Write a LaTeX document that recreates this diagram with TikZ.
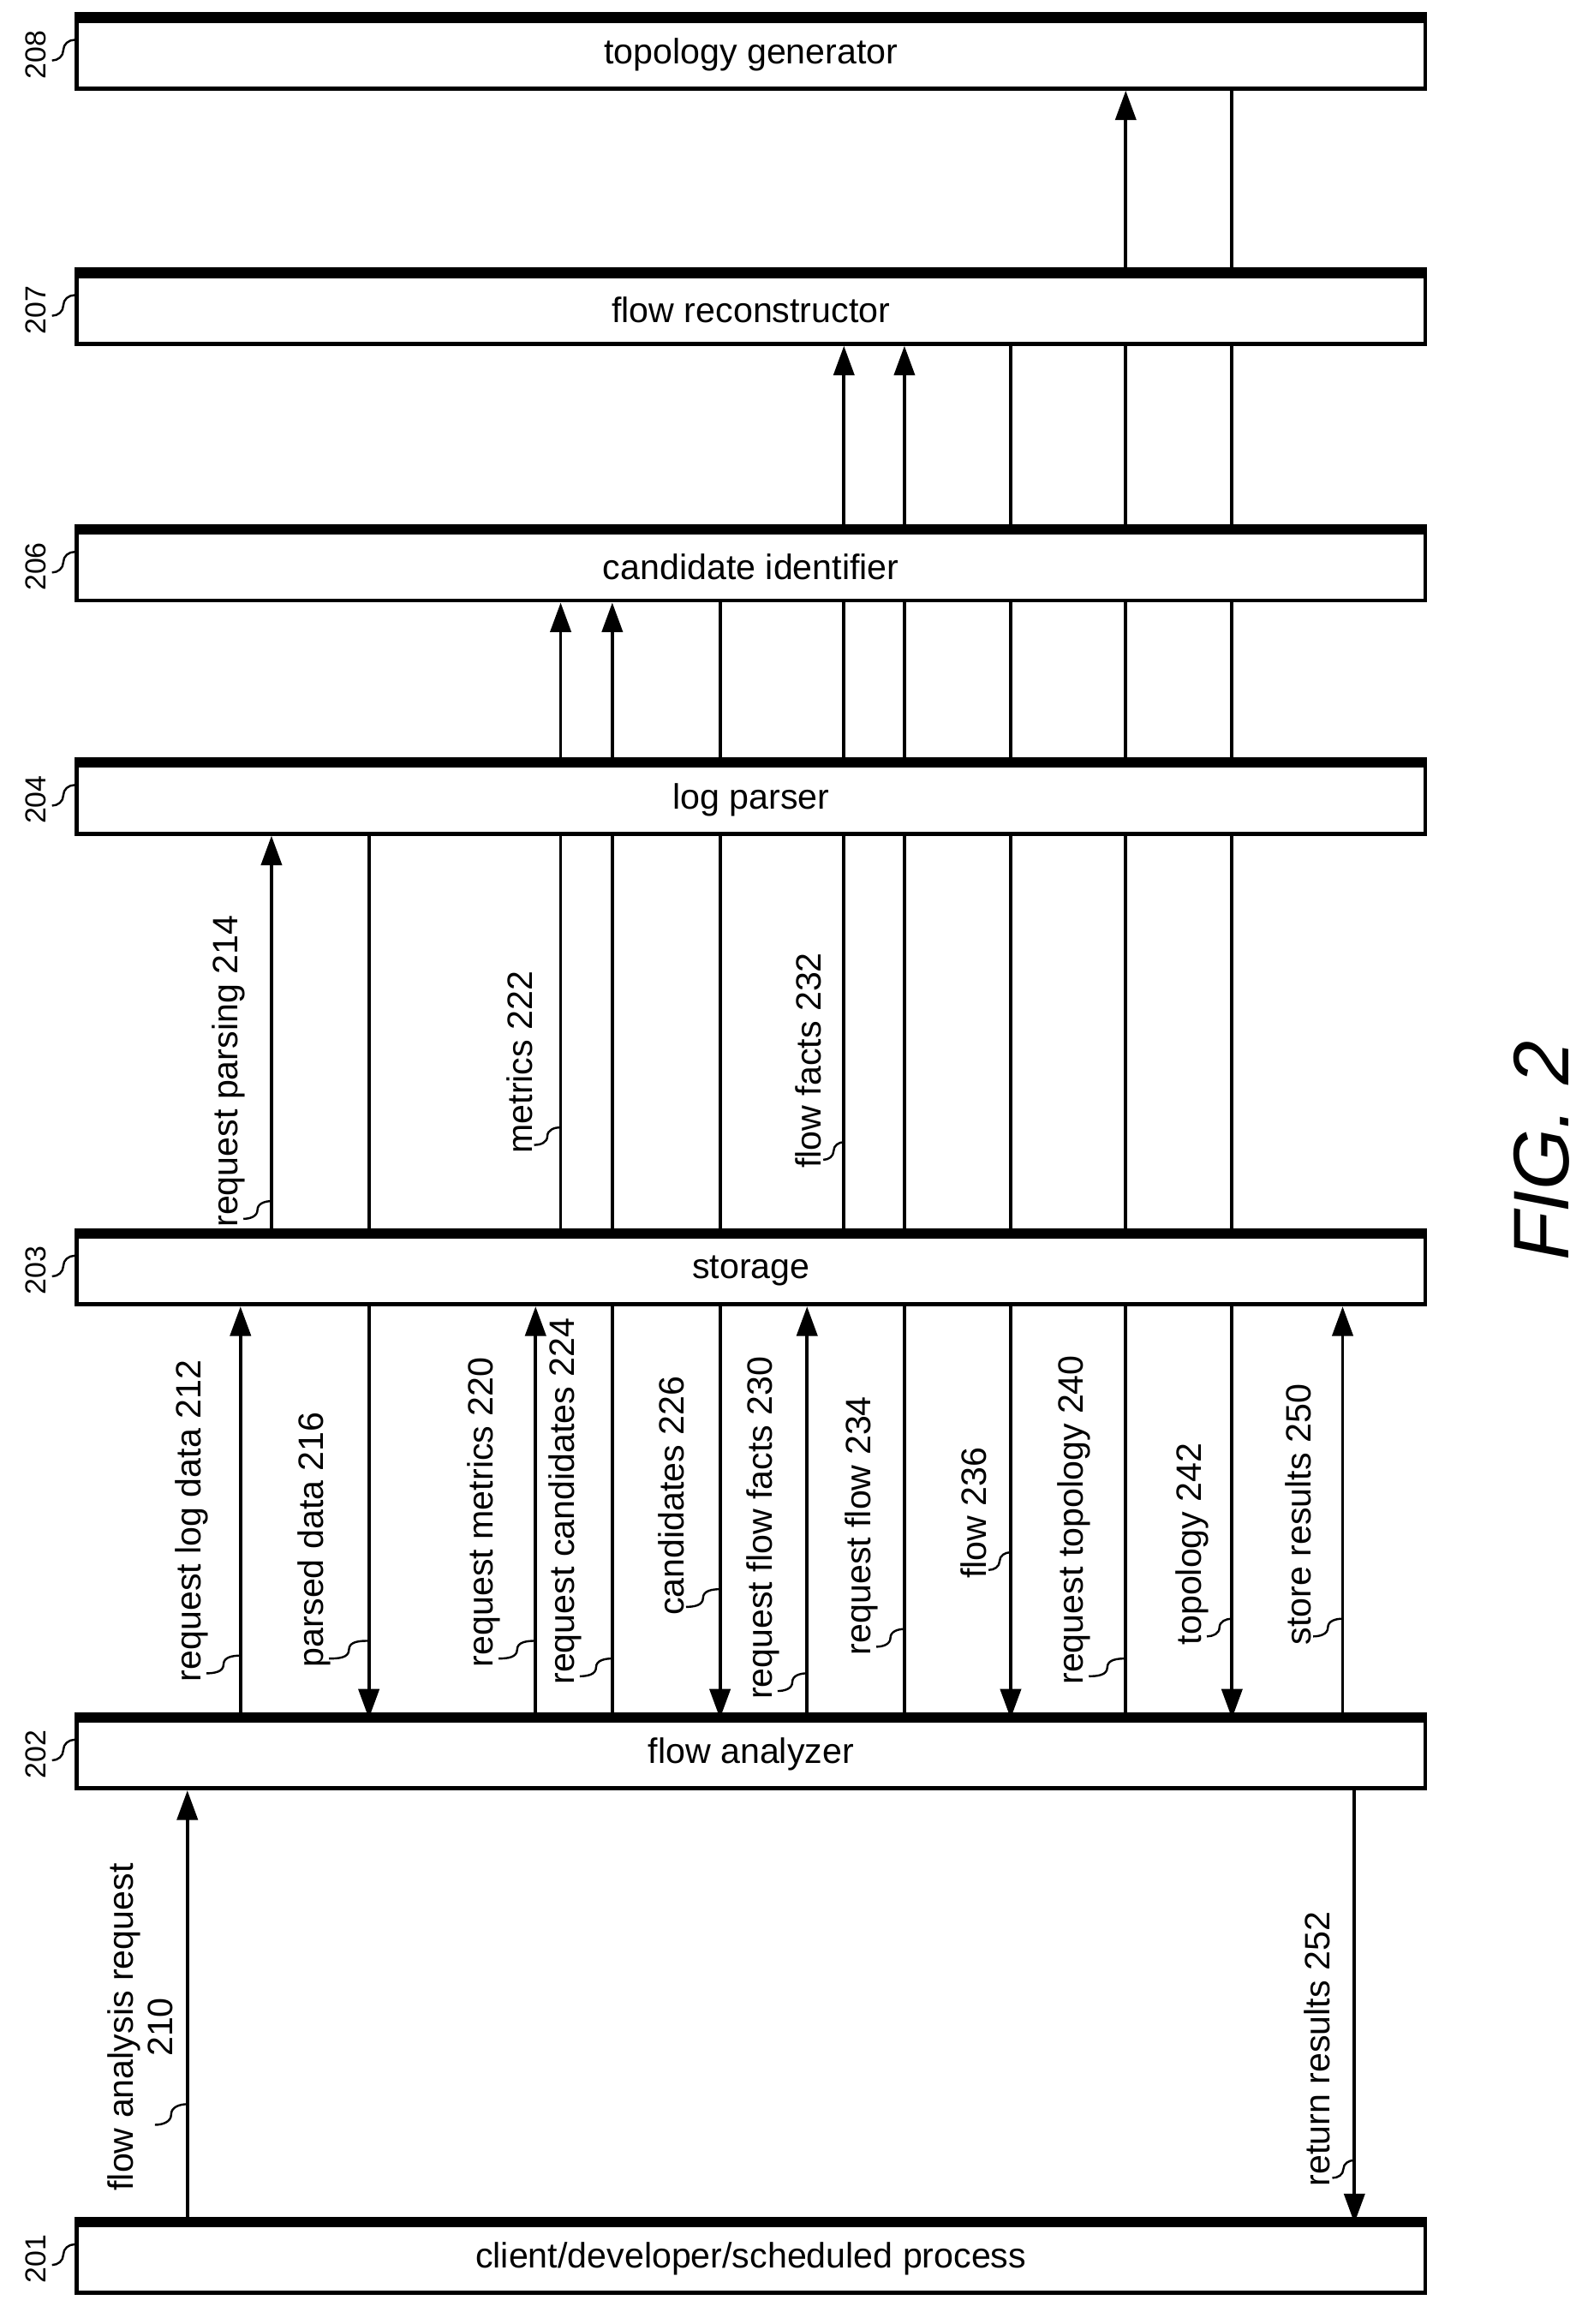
\documentclass[tikz,border=0pt]{standalone}
\usepackage{fontspec}
\setmainfont{Liberation Sans}
\usetikzlibrary{arrows.meta,calc}
\begin{document}
\begin{tikzpicture}[x=0.25mm,y=-0.25mm,
  boxst/.style={draw,line width=0.7mm,minimum width=228.5mm,minimum height=11.5mm,font=\fontsize{17}{20}\selectfont,inner sep=0pt},
  lin/.style={line width=0.55mm},
  arr/.style={lin,-{Triangle[width=3.5mm,length=5mm]}},
  lab/.style={rotate=90,anchor=west,font=\fontsize{17}{19}\selectfont,inner sep=0pt,align=center},
  refn/.style={rotate=90,font=\fontsize{14}{16}\selectfont,inner sep=0pt},
  squig/.style={line width=0.35mm}]
\useasboundingbox (0,0) rectangle (1080,1575);
% boxes
\foreach \n/\y/\t in {208/37/{topology generator},207/210/{flow reconstructor},206/384/{candidate identifier},204/542/{log parser},203/861/{storage},202/1189/{flow analyzer},201/1531/{client/developer/scheduled process}}{
  \node[boxst] (b\n) at (509,\y) {\t};
  \draw[line width=1.3mm] ([yshift=0.45mm]b\n.north west) -- ([yshift=0.45mm]b\n.north east);
  \node[refn] (r\n) at (24,\y) {\n};
  \draw[squig] ([xshift=1mm,yshift=-1mm]r\n.south) to[out=0,in=-90] ($([xshift=1mm,yshift=-1mm]r\n.south)!0.5!([yshift=2.5mm]b\n.west)$) to[out=90,in=180] ([yshift=2.5mm]b\n.west);
}
% x positions
\foreach \k/\x in {210/127,212/163,214/184,216/250,220/363,222/380,224/415,226/488,230/547,232/572,234/613,236/685,240/763,242/835,250/910,252/918}{
  \coordinate (L\k) at (\x,0);
}
% messages
\draw[arr] (b201.north -| L210) -- (b202.south -| L210);
\draw[arr] (b202.north -| L212) -- (b203.south -| L212);
\draw[arr] (b203.north -| L214) -- (b204.south -| L214);
\draw[lin] (b204.south -| L216) -- (b203.north -| L216);
\draw[arr] (b203.south -| L216) -- (b202.north -| L216);
\draw[arr] (b202.north -| L220) -- (b203.south -| L220);
\draw[lin] (b203.north -| L222) -- (b204.south -| L222);
\draw[arr] (b204.north -| L222) -- (b206.south -| L222);
\draw[lin] (b202.north -| L224) -- (b203.south -| L224);
\draw[lin] (b203.north -| L224) -- (b204.south -| L224);
\draw[arr] (b204.north -| L224) -- (b206.south -| L224);
\draw[lin] (b206.south -| L226) -- (b204.north -| L226);
\draw[lin] (b204.south -| L226) -- (b203.north -| L226);
\draw[arr] (b203.south -| L226) -- (b202.north -| L226);
\draw[arr] (b202.north -| L230) -- (b203.south -| L230);
\draw[lin] (b203.north -| L232) -- (b204.south -| L232);
\draw[lin] (b204.north -| L232) -- (b206.south -| L232);
\draw[arr] (b206.north -| L232) -- (b207.south -| L232);
\draw[lin] (b202.north -| L234) -- (b203.south -| L234);
\draw[lin] (b203.north -| L234) -- (b204.south -| L234);
\draw[lin] (b204.north -| L234) -- (b206.south -| L234);
\draw[arr] (b206.north -| L234) -- (b207.south -| L234);
\draw[lin] (b207.south -| L236) -- (b206.north -| L236);
\draw[lin] (b206.south -| L236) -- (b204.north -| L236);
\draw[lin] (b204.south -| L236) -- (b203.north -| L236);
\draw[arr] (b203.south -| L236) -- (b202.north -| L236);
\draw[lin] (b202.north -| L240) -- (b203.south -| L240);
\draw[lin] (b203.north -| L240) -- (b204.south -| L240);
\draw[lin] (b204.north -| L240) -- (b206.south -| L240);
\draw[lin] (b206.north -| L240) -- (b207.south -| L240);
\draw[arr] (b207.north -| L240) -- (b208.south -| L240);
\draw[lin] (b208.south -| L242) -- (b207.north -| L242);
\draw[lin] (b207.south -| L242) -- (b206.north -| L242);
\draw[lin] (b206.south -| L242) -- (b204.north -| L242);
\draw[lin] (b204.south -| L242) -- (b203.north -| L242);
\draw[arr] (b203.south -| L242) -- (b202.north -| L242);
\draw[arr] (b202.north -| L250) -- (b203.south -| L250);
\draw[arr] (b202.south -| L252) -- (b201.north -| L252);
% labels
\foreach \k/\x/\y/\t in {212/130/1140/request log data 212,214/155/832/request parsing 214,216/213/1130/parsed data 216,220/328/1130/request metrics 220,222/352/782/metrics 222,224/383/1142/request candidates 224,226/455/1095/candidates 226,230/517/1152/request flow facts 230,232/548/792/flow facts 232,234/584/1122/request flow 234,236/660/1070/flow 236,240/728/1142/request topology 240,242/808/1115/topology 242,250/880/1115/store results 250,252/893/1482/return results 252}{
  \node[lab] (t\k) at (\x,\y) {\t};
  \coordinate (s\k) at (\x+10,\y-6);
  \coordinate (e\k) at ($(L\k)+(0,\y-18)$);
  \draw[squig] (s\k) to[out=0,in=-90] ($(s\k)!0.5!(e\k)$) to[out=90,in=180] (e\k);
}
\node[lab] (t210) at (95,1485) {flow analysis request\\210};
\coordinate (s210) at (105,1440);
\coordinate (e210) at ($(L210)+(0,1426)$);
\draw[squig] (s210) to[out=0,in=-90] ($(s210)!0.5!(e210)$) to[out=90,in=180] (e210);
\node[rotate=90,font=\itshape\fontsize{38}{40}\selectfont] (fig) at (1045,780) {FIG. 2};
\end{tikzpicture}
\end{document}
